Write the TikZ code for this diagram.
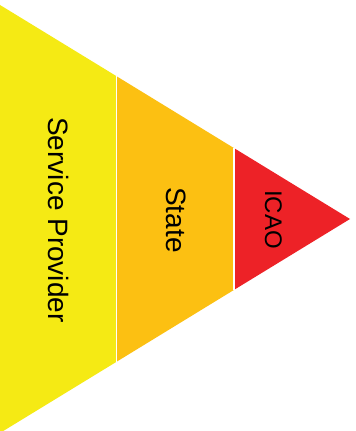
\documentclass[tikz,border=0pt]{standalone}
\usepackage{fontspec}
\setmainfont{Liberation Sans}
\definecolor{bandyellow}{RGB}{245,234,20}
\definecolor{bandorange}{RGB}{252,192,18}
\definecolor{bandred}{RGB}{237,34,39}
\begin{document}
\begin{tikzpicture}[x=1pt,y=1pt,
  sep/.style={draw=white,line width=1.6pt},
  lbl/.style={rotate=-90,anchor=base,inner sep=0pt,text=black}]
\useasboundingbox (0,0) rectangle (356,431);
\fill[white] (0,0) rectangle (356,431);
% key points
\coordinate (TL) at (0,426);
\coordinate (BL) at (0,-2);
\coordinate (tip) at (350,212);
\coordinate (a1) at (116.5,354.8);
\coordinate (b1) at (116.5,69.2);
\coordinate (a2) at (234,282.9);
\coordinate (b2) at (234,141.1);
% bands
\fill[bandyellow] (TL) -- (a1) -- (b1) -- (BL) -- cycle;
\fill[bandorange] (a1) -- (a2) -- (b2) -- (b1) -- cycle;
\fill[bandred] (a2) -- (tip) -- (b2) -- cycle;
% separators
\draw[sep] (a1) -- (b1);
\draw[sep] (a2) -- (b2);
% labels
\node[lbl,font=\fontsize{28}{30}\selectfont] (sp) at (48,211) {Service Provider};
\node[lbl,font=\fontsize{28}{30}\selectfont] (st) at (166,211) {State};
\node[lbl,font=\fontsize{24}{26}\selectfont] (icao) at (265,211.5) {ICAO};
\end{tikzpicture}
\end{document}
